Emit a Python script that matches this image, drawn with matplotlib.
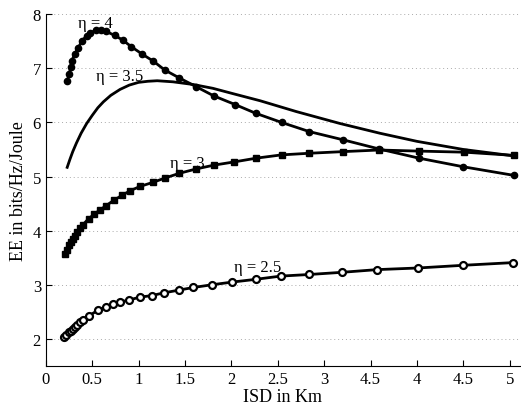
import matplotlib
matplotlib.use("Agg")
import matplotlib.pyplot as plt

plt.rcParams['font.family'] = ['Liberation Serif', 'DejaVu Serif']

# eta = 4 (filled circles)
isd_4 = [0.23, 0.25, 0.27, 0.28, 0.31, 0.35, 0.39, 0.44, 0.48, 0.54, 0.59, 0.65,
         0.74, 0.83, 0.92, 1.04, 1.16, 1.28, 1.44, 1.62, 1.81, 2.04, 2.26, 2.54,
         2.84, 3.20, 3.59, 4.02, 4.50, 5.05]
ee_4 = [6.76, 6.89, 7.02, 7.14, 7.26, 7.38, 7.51, 7.60, 7.66, 7.70, 7.70, 7.68,
        7.61, 7.52, 7.40, 7.26, 7.13, 6.97, 6.82, 6.66, 6.49, 6.33, 6.17, 6.00,
        5.83, 5.68, 5.51, 5.34, 5.18, 5.02]

# eta = 3.5 (plain line)
isd_35 = [0.23, 0.26, 0.29, 0.33, 0.38, 0.44, 0.50, 0.56, 0.62, 0.70, 0.80, 0.90,
          1.00, 1.10, 1.20, 1.37, 1.59, 1.80, 2.02, 2.31, 2.70, 3.17, 3.60, 4.00,
          4.50, 5.05]
ee_35 = [5.17, 5.32, 5.46, 5.62, 5.80, 5.98, 6.13, 6.27, 6.38, 6.50, 6.61, 6.69,
         6.74, 6.76, 6.77, 6.75, 6.70, 6.63, 6.53, 6.40, 6.20, 5.98, 5.80, 5.65,
         5.50, 5.38]

# eta = 3 (filled squares)
isd_3 = [0.21, 0.23, 0.25, 0.27, 0.29, 0.31, 0.34, 0.37, 0.40, 0.46, 0.52, 0.58,
         0.65, 0.73, 0.82, 0.91, 1.02, 1.15, 1.28, 1.44, 1.62, 1.81, 2.03, 2.27,
         2.54, 2.84, 3.20, 3.59, 4.02, 4.51, 5.05]
ee_3 = [3.57, 3.65, 3.73, 3.79, 3.85, 3.91, 3.97, 4.04, 4.11, 4.22, 4.30, 4.38,
        4.46, 4.56, 4.65, 4.74, 4.82, 4.89, 4.97, 5.06, 5.14, 5.21, 5.27, 5.34,
        5.40, 5.43, 5.46, 5.49, 5.47, 5.45, 5.39]

# eta = 2.5 (open circles)
isd_25 = [0.20, 0.22, 0.25, 0.27, 0.29, 0.31, 0.34, 0.37, 0.40, 0.47, 0.56, 0.65,
          0.72, 0.80, 0.90, 1.01, 1.14, 1.27, 1.43, 1.59, 1.79, 2.01, 2.26, 2.53,
          2.84, 3.19, 3.57, 4.01, 4.50, 5.04]
ee_25 = [2.03, 2.07, 2.12, 2.15, 2.18, 2.22, 2.26, 2.31, 2.35, 2.43, 2.53, 2.59,
         2.64, 2.68, 2.72, 2.77, 2.80, 2.85, 2.90, 2.95, 3.00, 3.05, 3.10, 3.16,
         3.19, 3.23, 3.28, 3.31, 3.36, 3.41]

xtick_vals = [0, 0.5, 1, 1.5, 2, 2.5, 3, 3.5, 4, 4.5, 5]
xtick_labels = ['0', '0.5', '1', '1.5', '2', '2.5', '3', '4.5', '4', '4.5', '5']
ytick_vals = [2, 3, 4, 5, 6, 7, 8]

fig = plt.figure(figsize=(5.21, 4.10), dpi=100)
ax = fig.add_axes([0.088, 0.105, 0.91, 0.858])

ax.plot(isd_4, ee_4, 'k-o', lw=2, ms=4.5)
ax.plot(isd_35, ee_35, 'k-', lw=2)
ax.plot(isd_3, ee_3, 'k-s', lw=2, ms=4)
ax.plot(isd_25, ee_25, 'k-o', lw=2, ms=5, mfc='white', mew=1.6)

ax.text(0.53, 7.83, 'η = 4', fontsize=12, ha='center', va='center')
ax.text(0.80, 6.85, 'η = 3.5', fontsize=12, ha='center', va='center')
ax.text(1.52, 5.25, 'η = 3', fontsize=12, ha='center', va='center')
ax.text(2.28, 3.33, 'η = 2.5', fontsize=12, ha='center', va='center')

ax.set_xlim(0, 5.11)
ax.set_ylim(1.5, 8)
ax.set_xticks(xtick_vals)
ax.set_xticklabels(xtick_labels)
ax.set_yticks(ytick_vals)
ax.tick_params(direction='in', labelsize=12, length=4)
ax.yaxis.grid(True, linestyle=(0, (1, 3)), color='#aaaaaa', lw=0.7)
ax.spines['top'].set_visible(False)
ax.spines['right'].set_visible(False)
ax.set_xlabel('ISD in Km', fontsize=13, labelpad=1)
ax.set_ylabel('EE in bits/Hz/Joule', fontsize=13, labelpad=4)

fig.savefig('out.png', dpi=100)
